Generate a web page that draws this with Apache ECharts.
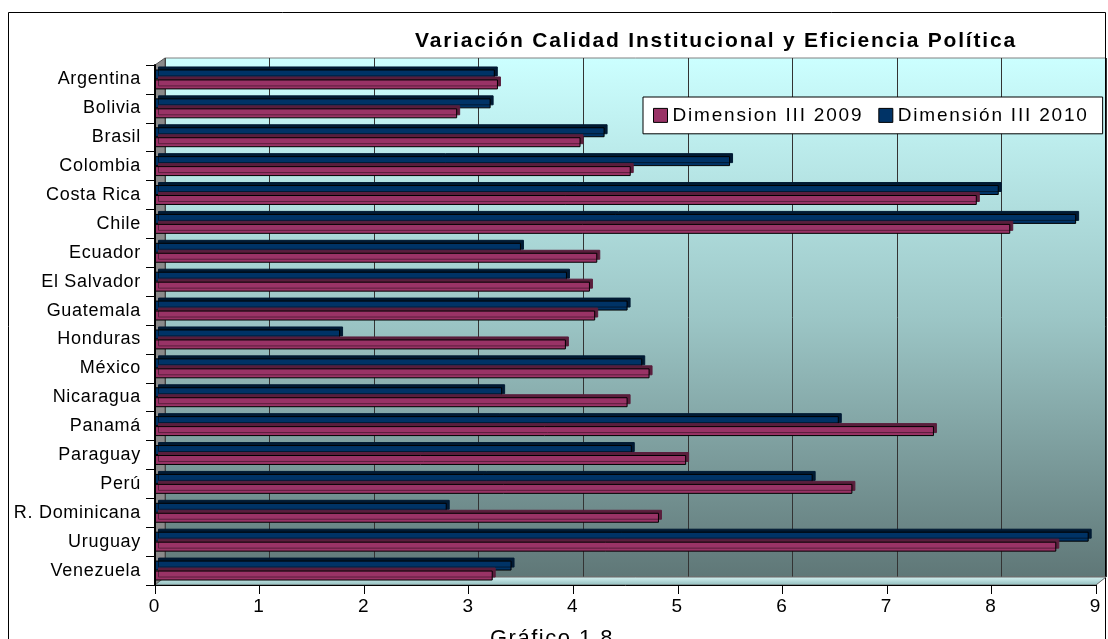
<!DOCTYPE html>
<html>
<head>
<meta charset="utf-8">
<style>
  html, body { margin: 0; padding: 0; background: #fff; }
  #chart { width: 1108px; height: 639px; }
</style>
<script src="https://cdn.jsdelivr.net/npm/echarts@6/dist/echarts.min.js"></script>
</head>
<body>
<div id="chart"></div>
<script>
// ---- data ----
var categories = ['Argentina', 'Bolivia', 'Brasil', 'Colombia', 'Costa Rica', 'Chile', 'Ecuador', 'El Salvador', 'Guatemala', 'Honduras', 'México', 'Nicaragua', 'Panamá', 'Paraguay', 'Perú', 'R. Dominicana', 'Uruguay', 'Venezuela'];
var dim2009 = [3.28, 2.89, 4.07, 4.55, 7.86, 8.18, 4.23, 4.16, 4.21, 3.93, 4.73, 4.52, 7.45, 5.08, 6.67, 4.82, 8.62, 3.23];
var dim2010 = [3.25, 3.21, 4.30, 5.50, 8.07, 8.81, 3.50, 3.94, 4.52, 1.77, 4.66, 3.32, 6.54, 4.56, 6.29, 2.79, 8.93, 3.41];
var seriesNames = ['Dimension III 2009', 'Dimensión III 2010'];
var titleText = 'Variación Calidad Institucional y Eficiencia Política';
var captionText = 'Gráfico 1.8';
var axisMin = 0, axisMax = 9, axisStep = 1;

// Excel-like wide letter spacing for canvas text (by font size)
(function () {
  var spacing = { 18: '0.7px', 19: '1.8px', 21: '1.8px', 22: '1.5px' };
  var P = CanvasRenderingContext2D.prototype;
  function setSp(ctx) {
    if (!('letterSpacing' in ctx)) return;
    var m = /(\d+(?:\.\d+)?)px/.exec(ctx.font || '');
    var s = m ? Math.round(parseFloat(m[1])) : 0;
    ctx.letterSpacing = spacing[s] || '0px';
  }
  ['fillText', 'strokeText', 'measureText'].forEach(function (name) {
    var orig = P[name];
    P[name] = function () { setSp(this); return orig.apply(this, arguments); };
  });
})();

var FONT = '"Liberation Sans", Arial, sans-serif';
var chart = echarts.init(document.getElementById('chart'), null, { renderer: 'canvas' });

var option = {
  backgroundColor: '#ffffff',
  animation: false,
  title: [{
    text: titleText,
    left: 410, top: 25,
    textStyle: { fontFamily: FONT, fontSize: 21, fontWeight: 'bold', color: '#000' }
  }, {
    text: captionText,
    left: 485, top: 622,
    textStyle: { fontFamily: FONT, fontSize: 22, fontWeight: 'normal', color: '#000' }
  }],
  legend: {
    data: seriesNames,
    left: 643, top: 97,
    orient: 'horizontal',
    padding: [8, 14, 8, 10],
    itemWidth: 14, itemHeight: 14, itemGap: 15,
    backgroundColor: '#fff', borderColor: '#000', borderWidth: 1, borderRadius: 0,
    icon: 'rect',
    itemStyle: { borderColor: '#000', borderWidth: 1, shadowBlur: 0, shadowOffsetX: 0, shadowOffsetY: 0, shadowColor: 'rgba(0,0,0,0)' },
    textStyle: { fontFamily: FONT, fontSize: 19, lineHeight: 20, color: '#000' }
  },
  grid: [{
    left: 155, right: 12, top: 65, bottom: 54, containLabel: false
  }, {
    left: 165, right: 2, top: 58, bottom: 62, show: true,
    borderColor: '#808080', borderWidth: 1,
    backgroundColor: new echarts.graphic.LinearGradient(0, 0, 0, 1, [
      { offset: 0, color: '#ccffff' },
      { offset: 0.5, color: '#9cc6c6' },
      { offset: 1, color: '#5f7777' }
    ])
  }],
  xAxis: [{
    type: 'value', gridIndex: 0, min: axisMin, max: axisMax, interval: axisStep, z: 3,
    axisLine: { show: true, lineStyle: { color: '#000', width: 1 } },
    axisTick: { show: true, length: 9, lineStyle: { color: '#000' } },
    axisLabel: { fontFamily: FONT, fontSize: 19, color: '#000', margin: 11 },
    splitLine: { show: false }
  }, {
    type: 'value', gridIndex: 1, min: axisMin, max: axisMax, interval: axisStep,
    axisLine: { show: false }, axisTick: { show: false }, axisLabel: { show: false },
    splitLine: { show: true, lineStyle: { color: '#333', width: 1 } }
  }],
  yAxis: [{
    type: 'category', gridIndex: 0, data: categories, inverse: true, z: 3,
    axisLine: { show: true, lineStyle: { color: '#000', width: 2 } },
    axisTick: { show: true, length: 9, alignWithLabel: false, lineStyle: { color: '#000' } },
    axisLabel: { fontFamily: FONT, fontSize: 18, color: '#000', margin: 14 },
    splitLine: { show: false }
  }, {
    type: 'value', gridIndex: 1, show: false
  }],
  graphic: [{
    type: 'polygon', z: 1, silent: true,
    shape: { points: [[155, 65], [165, 58], [165, 577], [155, 585]] },
    style: { fill: '#8a8a8a', stroke: '#555', lineWidth: 1 }
  }, {
    type: 'polygon', z: 1, silent: true,
    shape: { points: [[155, 585], [165, 577], [1106, 577], [1096, 585]] },
    style: {
      fill: new echarts.graphic.LinearGradient(0, 0, 0, 1, [
        { offset: 0, color: '#d8f4f4' }, { offset: 1, color: '#8fbcbc' }
      ]),
      stroke: '#666', lineWidth: 1
    }
  }, {
    type: 'rect', z: 0, silent: true,
    shape: { x: 8.5, y: 12.5, width: 1097, height: 640 },
    style: { fill: 'none', stroke: '#000', lineWidth: 1 }
  }],
  series: [{
    name: seriesNames[1], type: 'bar', xAxisIndex: 0, yAxisIndex: 0,
    data: dim2010, barGap: '0%', barCategoryGap: '31%',
    itemStyle: { color: '#003366', borderColor: '#000', borderWidth: 1,
      shadowColor: '#001a33', shadowOffsetX: 3, shadowOffsetY: -3, shadowBlur: 0 }
  }, {
    name: seriesNames[0], type: 'bar', xAxisIndex: 0, yAxisIndex: 0,
    data: dim2009, barGap: '0%', barCategoryGap: '31%',
    itemStyle: { color: '#993366', borderColor: '#000', borderWidth: 1,
      shadowColor: '#5a1e3c', shadowOffsetX: 3, shadowOffsetY: -3, shadowBlur: 0 }
  }]
};
chart.setOption(option);
</script>
</body>
</html>
